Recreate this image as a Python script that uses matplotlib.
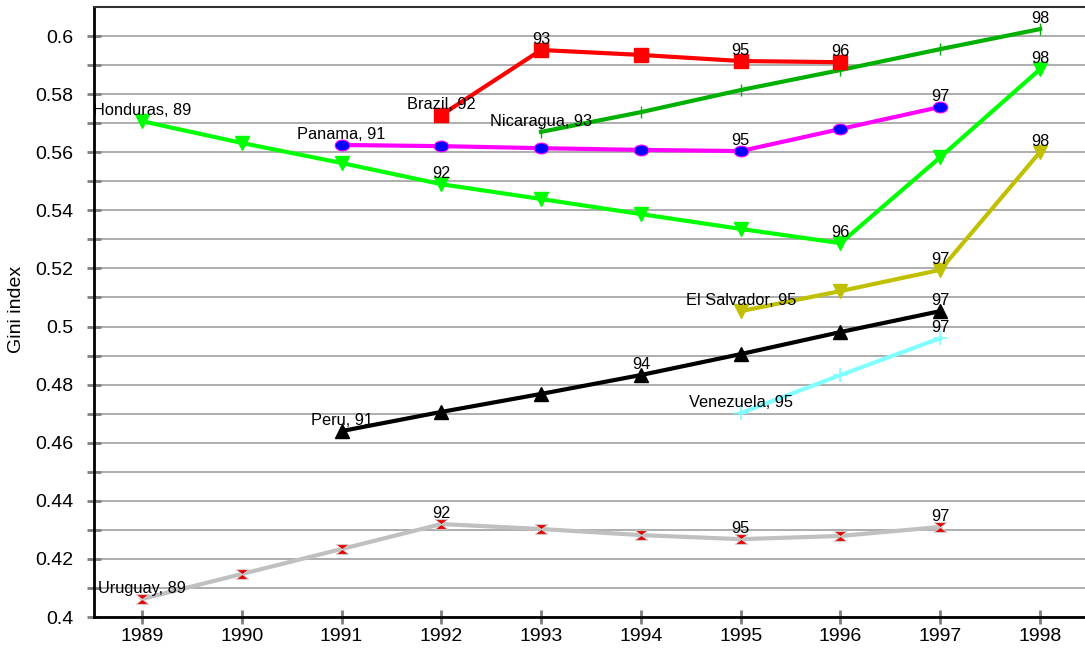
import numpy as np
import matplotlib
matplotlib.use('Agg')
from matplotlib import pyplot as plt
from matplotlib.path import Path
from matplotlib.transforms import Affine2D

plt.rcParams['font.family'] = ['Liberation Sans', 'DejaVu Sans']

years = [1989, 1990, 1991, 1992, 1993, 1994, 1995, 1996, 1997, 1998]

# series: years covered, gini values, labelled points (year -> text)
honduras_x = [1989, 1990, 1991, 1992, 1993, 1994, 1995, 1996, 1997, 1998]
honduras_y = [0.5707, 0.5632, 0.5563, 0.5490, 0.5439, 0.5387, 0.5336, 0.5287, 0.5583, 0.5886]
honduras_lab = {1989: 'Honduras, 89', 1992: '92', 1996: '96', 1998: '98'}

brazil_x = [1992, 1993, 1994, 1995, 1996]
brazil_y = [0.5728, 0.5952, 0.5935, 0.5914, 0.5910]
brazil_lab = {1992: 'Brazil, 92', 1993: '93', 1995: '95', 1996: '96'}

nicaragua_x = [1993, 1994, 1995, 1996, 1997, 1998]
nicaragua_y = [0.5670, 0.5738, 0.5814, 0.5883, 0.5955, 0.6024]
nicaragua_lab = {1993: 'Nicaragua, 93', 1998: '98'}

panama_x = [1991, 1992, 1993, 1994, 1995, 1996, 1997]
panama_y = [0.5625, 0.5621, 0.5614, 0.5608, 0.5604, 0.5680, 0.5756]
panama_lab = {1991: 'Panama, 91', 1995: '95', 1997: '97'}

salvador_x = [1995, 1996, 1997, 1998]
salvador_y = [0.5053, 0.5122, 0.5195, 0.5601]
salvador_lab = {1995: 'El Salvador, 95', 1997: '97', 1998: '98'}

peru_x = [1991, 1992, 1993, 1994, 1995, 1996, 1997]
peru_y = [0.4640, 0.4706, 0.4768, 0.4833, 0.4905, 0.4981, 0.5053]
peru_lab = {1991: 'Peru, 91', 1994: '94', 1997: '97'}

venezuela_x = [1995, 1996, 1997]
venezuela_y = [0.4702, 0.4833, 0.4960]
venezuela_lab = {1995: 'Venezuela, 95', 1997: '97'}

uruguay_x = [1989, 1990, 1991, 1992, 1993, 1994, 1995, 1996, 1997]
uruguay_y = [0.4062, 0.4148, 0.4234, 0.4320, 0.4303, 0.4282, 0.4268, 0.4279, 0.4310]
uruguay_lab = {1989: 'Uruguay, 89', 1992: '92', 1995: '95', 1997: '97'}

# custom markers
ellipse = Path.unit_circle().transformed(Affine2D().scale(1.35, 1.0))
hourglass = Path([(-1.3, 1), (1.3, 1), (0, 0), (1.3, -1), (-1.3, -1), (0, 0), (-1.3, 1)],
                 [Path.MOVETO, Path.LINETO, Path.LINETO, Path.LINETO,
                  Path.LINETO, Path.LINETO, Path.CLOSEPOLY])

fig = plt.figure(figsize=(10.85, 6.53), dpi=100)
ax = fig.add_axes([94/1085, 1-617/653, 1-94/1085, (617-7)/653])

series = [
    (uruguay_x, uruguay_y, uruguay_lab, dict(color='#c0c0c0', marker=hourglass, ms=9, mfc='#e00000', mec='#d0d0d0', mew=0.6)),
    (venezuela_x, venezuela_y, venezuela_lab, dict(color='#80ffff', marker='+', ms=10, mew=1.2)),
    (peru_x, peru_y, peru_lab, dict(color='black', marker='^', ms=10.5)),
    (salvador_x, salvador_y, salvador_lab, dict(color='#c0c000', marker='v', ms=10.5)),
    (honduras_x, honduras_y, honduras_lab, dict(color='#00ff00', marker='v', ms=10.5)),
    (panama_x, panama_y, panama_lab, dict(color='#ff00ff', marker=ellipse, ms=10.5, mfc='#0000ff', mec='#ff00ff', mew=0.8)),
    (nicaragua_x, nicaragua_y, nicaragua_lab, dict(color='#00b000', marker='|', ms=9, mew=1.0)),
    (brazil_x, brazil_y, brazil_lab, dict(color='#ff0000', marker='s', ms=9.5)),
]

for xs, ys, labs, style in series:
    ax.plot(xs, ys, lw=3, zorder=3, **style)
    for x, y in zip(xs, ys):
        if x in labs:
            ax.annotate(labs[x], (x, y), xytext=(0, 4.5), textcoords='offset points',
                        ha='center', va='baseline', fontsize=11.8, zorder=4)

ax.set_xlim(1988.52, 1998.45)
ax.set_ylim(0.4, 0.61)
ax.set_xticks(years)
ax.set_yticks(np.arange(0.4, 0.601, 0.02))
ax.set_yticks(np.arange(0.41, 0.61, 0.02), minor=True)
ax.set_yticklabels(['0.4', '0.42', '0.44', '0.46', '0.48', '0.5', '0.52', '0.54', '0.56', '0.58', '0.6'])
ax.tick_params(axis='both', which='both', direction='inout', length=10, width=2, color='#808080', labelsize=14)
ax.tick_params(axis='x', pad=3)
ax.tick_params(axis='y', pad=10)
ax.grid(axis='y', which='both', color='#a0a0a0', lw=1.2, zorder=0)
ax.set_axisbelow(True)
ax.spines['right'].set_visible(False)
ax.spines['left'].set_linewidth(2)
ax.spines['bottom'].set_linewidth(2)
ax.spines['top'].set_linewidth(1.5)
ax.spines['top'].set_color('#303030')
ax.set_ylabel('Gini index', fontsize=14)
ax.yaxis.set_label_coords(-0.0696, 0.505)

fig.savefig('out.png', dpi=100)
